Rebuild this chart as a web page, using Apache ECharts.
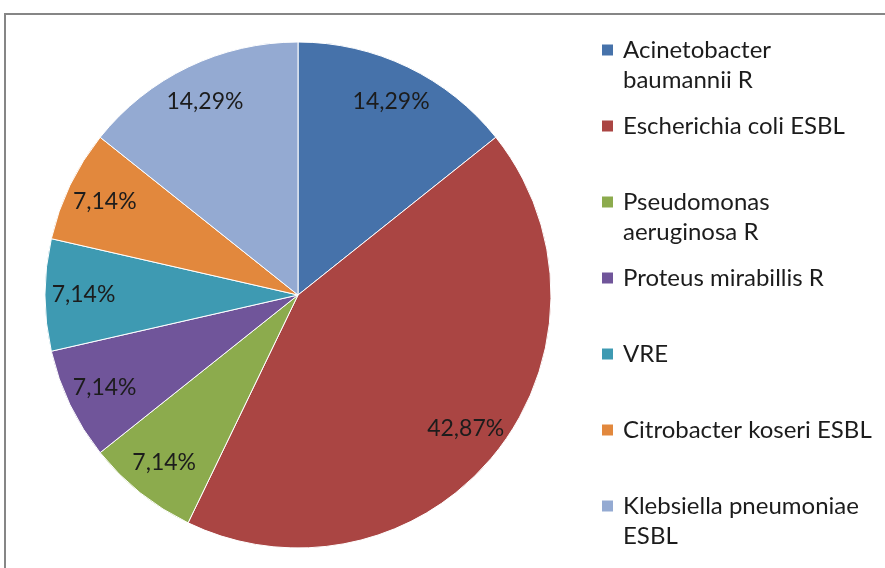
<!DOCTYPE html>
<html>
<head>
<meta charset="utf-8">
<script src="https://cdn.jsdelivr.net/npm/echarts@6/dist/echarts.min.js"></script>
<style>
  html, body { margin: 0; padding: 0; background: #fff; }
  #main { width: 885px; height: 568px; }
</style>
</head>
<body>
<div id="main"></div>
<script>
// organisms, clockwise from 12 o'clock
var names = [
  'Acinetobacter baumannii R',
  'Escherichia coli ESBL',
  'Pseudomonas aeruginosa R',
  'Proteus mirabillis R',
  'VRE',
  'Citrobacter koseri ESBL',
  'Klebsiella pneumoniae ESBL'
];
// wrapped text as shown in the legend
var legendLabels = [
  'Acinetobacter\nbaumannii R',
  'Escherichia coli ESBL',
  'Pseudomonas\naeruginosa R',
  'Proteus mirabillis R',
  'VRE',
  'Citrobacter koseri ESBL',
  'Klebsiella pneumoniae\nESBL'
];
var percents = [14.29, 42.87, 7.14, 7.14, 7.14, 7.14, 14.29];
var colors = ['#4672aa', '#aa4543', '#8cab4d', '#70559a', '#3e9ab2', '#e2883d', '#94aad2'];

var font = 'Lato';
var lineH = 30;

var pieData = names.map(function (n, i) {
  return { name: n, value: percents[i] };
});

function isTwoLines(i) {
  return legendLabels[i].indexOf('\n') >= 0;
}

// every legend entry is 3 lines tall so the spacing stays even and the
// marker lines up with the first line of wrapped entries
var legendData = names.map(function (n, i) {
  return {
    name: n,
    textStyle: {
      backgroundColor: 'transparent',
      padding: isTwoLines(i) ? [0, 0, 0, 4] : [lineH, 0, lineH, 4]
    }
  };
});

var myChart = echarts.init(document.getElementById('main'));
myChart.setOption({
  animation: false,
  color: colors,
  graphic: [{
    type: 'rect',
    shape: { x: 5, y: 14, width: 900, height: 600 },
    style: { fill: 'none', stroke: '#868686', lineWidth: 2 },
    silent: true
  }],
  legend: {
    orient: 'vertical',
    left: 600,
    top: 5,
    padding: 0,
    itemWidth: 13,
    itemHeight: 13,
    itemGap: 76 - 3 * lineH,
    icon: 'rect',
    data: legendData,
    formatter: function (name) {
      var i = names.indexOf(name);
      return isTwoLines(i) ? '\n' + legendLabels[i] : legendLabels[i];
    },
    textStyle: {
      fontFamily: font,
      fontSize: 24,
      lineHeight: lineH,
      color: '#1c1c1c'
    }
  },
  series: [
    {
      type: 'pie',
      center: [298, 295],
      radius: [0, 253],
      startAngle: 90,
      data: pieData,
      label: { show: false },
      labelLine: { show: false },
      itemStyle: { borderColor: '#fff', borderWidth: 1 },
      emphasis: { disabled: true }
    },
    {
      // transparent ring only used to put labels at ~84% of the radius
      type: 'pie',
      center: [298, 295],
      radius: [170, 253],
      startAngle: 90,
      silent: true,
      data: pieData,
      itemStyle: { color: 'rgba(0,0,0,0)', borderWidth: 0 },
      labelLine: { show: false },
      label: {
        show: true,
        position: 'inside',
        fontFamily: font,
        fontSize: 23,
        color: '#1c1c1c',
        formatter: function (p) {
          return p.value.toFixed(2).replace('.', ',') + '%';
        }
      },
      emphasis: { disabled: true }
    }
  ]
});
</script>
</body>
</html>
